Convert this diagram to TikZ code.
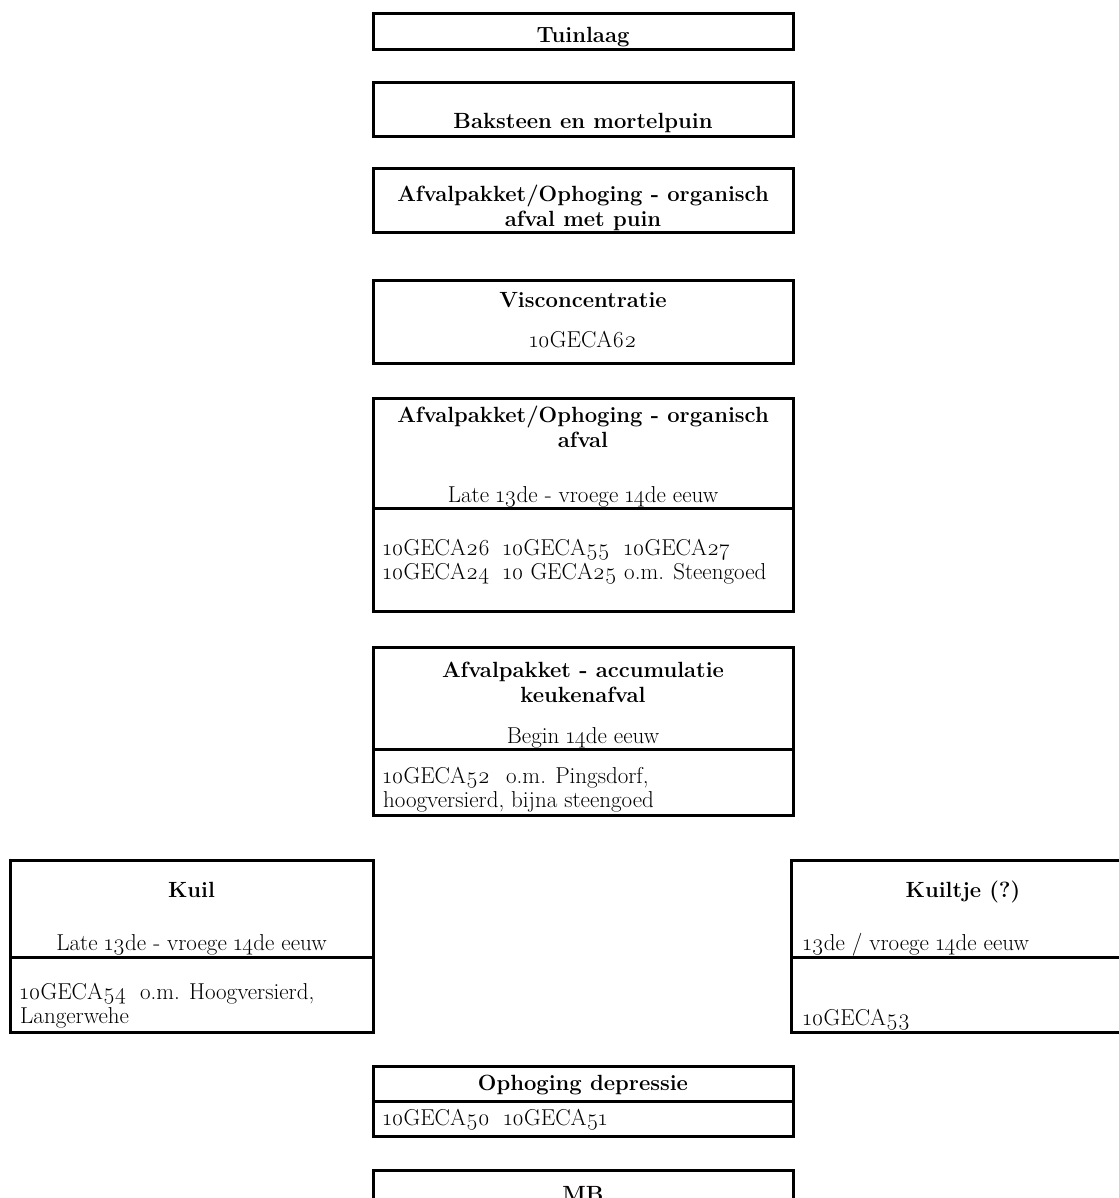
\documentclass[tikz,border=0pt]{standalone}
\usepackage{fontspec}
\setmainfont{Latin Modern Roman}[Numbers=OldStyle]
\usepackage{tikz}

\newcommand{\colbox}[2]{\makebox[#1][l]{#2}}

\begin{document}
\begin{tikzpicture}[x=1pt,y=-1pt,
	frame/.style={draw, line width=3pt, inner sep=0pt, minimum width=420pt},
	head/.style={font=\fontsize{22}{25}\selectfont\bfseries, align=center, inner sep=0pt, anchor=base},
	note/.style={font=\fontsize{23}{24}\selectfont, inner sep=0pt, anchor=base},
	body/.style={font=\fontsize{23}{24}\selectfont, align=left, inner sep=0pt, anchor=base west}]
	\useasboundingbox (0,0) rectangle (1118,1198);
	% central column
	\node[frame, minimum height=36pt] (b1) at (583,32) {};
	\node[frame, minimum height=54pt] (b2) at (583,110) {};
	\node[frame, minimum height=64pt] (b3) at (583,201) {};
	\node[frame, minimum height=83pt] (b4) at (583,321.5) {};
	\node[frame, minimum height=110pt] (b5) at (583,453) {};
	\node[frame, minimum height=103pt] (c5) at (583,559.5) {};
	\node[frame, minimum height=102pt] (b6) at (583,698) {};
	\node[frame, minimum height=66pt] (c6) at (583,782) {};
	\node[frame, minimum height=35pt] (b7) at (583,1083.5) {};
	\node[frame, minimum height=35pt] (c7) at (583,1118.5) {};
	\node[frame, minimum height=100pt] (b8) at (583,1220) {};
	% side boxes
	\node[frame, minimum width=363pt, minimum height=97pt] (k1) at (191.5,908.5) {};
	\node[frame, minimum width=363pt, minimum height=75pt] (l1) at (191.5,994.5) {};
	\node[frame, minimum width=344pt, minimum height=97pt] (k2) at (963,908.5) {};
	\node[frame, minimum width=344pt, minimum height=75pt] (l2) at (963,994.5) {};

	% texts (two-line nodes sit on their last line)
	\node[head] (t1) at (583,43) {Tuinlaag};
	\node[head] (t2) at (583,129) {Baksteen en mortelpuin};
	\node[head] (t3) at (583,227) {Afvalpakket/Ophoging - organisch\\afval met puin};
	\node[head] (t4) at (583,307) {Visconcentratie};
	\node[note] (n4) at (583,347) {10GECA62};
	\node[head] (t5) at (583,447) {Afvalpakket/Ophoging - organisch\\afval};
	\node[note] (n5) at (583,502) {Late 13de - vroege 14de eeuw};
	\node[body] (d5) at (383,579) {\colbox{120pt}{10GECA26}\colbox{121pt}{10GECA55}10GECA27\\
		\colbox{120pt}{10GECA24}\colbox{121pt}{10 GECA25}o.m. Steengoed};
	\node[head] (t6) at (583,702) {Afvalpakket - accumulatie\\keukenafval};
	\node[note] (n6) at (583,743) {Begin 14de eeuw};
	\node[body] (d6) at (383,807) {\colbox{123pt}{10GECA52}o.m. Pingsdorf,\\hoogversierd, bijna steengoed};
	\node[head] (t7) at (583,1090) {Ophoging depressie};
	\node[body] (d7) at (383,1125) {10GECA50~~10GECA51};
	\node[head] (t8) at (583,1201) {MB};

	\node[head] (s1) at (191.5,897) {Kuil};
	\node[note] (m1) at (191.5,950) {Late 13de - vroege 14de eeuw};
	\node[body] (e1) at (20,1023) {10GECA54~~o.m. Hoogversierd,\\Langerwehe};
	\node[head] (s2) at (963,897) {Kuiltje (?)};
	\node[body] (m2) at (803,950) {13de / vroege 14de eeuw};
	\node[body] (e2) at (803,1025) {10GECA53};
\end{tikzpicture}
\end{document}
